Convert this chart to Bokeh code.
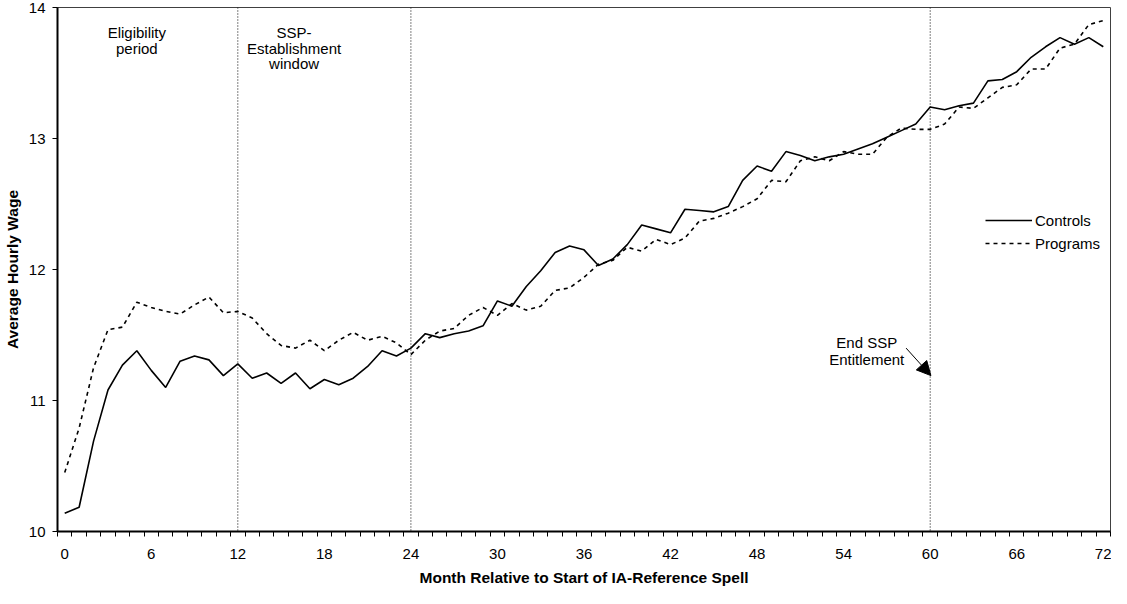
from bokeh.plotting import figure
from bokeh.models import (Range1d, FixedTicker, Span, Label, Arrow, NormalHead,
                          Legend, LegendItem)
from bokeh.embed import file_html
from bokeh.resources import INLINE

# ---------------- data ----------------
months = list(range(73))
controls = [10.14, 10.185, 10.69, 11.08, 11.27, 11.38, 11.23, 11.10, 11.30, 11.34,
            11.31, 11.19, 11.28, 11.17, 11.21, 11.13, 11.21, 11.09, 11.16, 11.12,
            11.17, 11.26, 11.38, 11.34, 11.40, 11.51, 11.48, 11.51, 11.53, 11.57,
            11.76, 11.72, 11.87, 11.99, 12.13, 12.18, 12.15, 12.03, 12.08, 12.19,
            12.34, 12.31, 12.28, 12.46, 12.45, 12.44, 12.48, 12.68, 12.79, 12.75,
            12.90, 12.87, 12.83, 12.86, 12.88, 12.92, 12.96, 13.01, 13.06, 13.11,
            13.24, 13.22, 13.25, 13.27, 13.44, 13.45, 13.51, 13.62, 13.70, 13.77,
            13.72, 13.77, 13.70]
programs = [10.45, 10.79, 11.25, 11.54, 11.56, 11.75, 11.71, 11.68, 11.66, 11.73,
            11.79, 11.67, 11.68, 11.63, 11.51, 11.42, 11.40, 11.46, 11.38, 11.46,
            11.52, 11.46, 11.49, 11.44, 11.35, 11.46, 11.53, 11.55, 11.65, 11.71,
            11.65, 11.74, 11.69, 11.72, 11.84, 11.86, 11.94, 12.04, 12.07, 12.17,
            12.14, 12.23, 12.19, 12.24, 12.37, 12.39, 12.43, 12.48, 12.54, 12.68,
            12.67, 12.83, 12.86, 12.83, 12.90, 12.88, 12.88, 13.01, 13.08, 13.07,
            13.07, 13.11, 13.24, 13.23, 13.31, 13.39, 13.41, 13.53, 13.53, 13.69,
            13.72, 13.87, 13.90]
x_tick_labels = [0, 6, 12, 18, 24, 30, 36, 42, 48, 54, 60, 66, 72]
y_ticks = [10, 11, 12, 13, 14]
period_lines = [12, 24, 60]

x_title = "Month Relative to Start of IA-Reference Spell"
y_title = "Average Hourly Wage"

# annotation texts, anchored in data units (month, wage)
notes = [
    ("Eligibility", 5.0, 13.81),
    ("period", 5.0, 13.69),
    ("SSP-", 15.9, 13.81),
    ("Establishment", 15.9, 13.69),
    ("window", 15.9, 13.57),
    ("End SSP", 55.6, 11.44),
    ("Entitlement", 55.6, 11.31),
]
arrow_from = (58.33, 11.40)
arrow_to = (60.05, 11.19)

FONT = "Liberation Sans"

p = figure(width=1111, height=588, output_backend="svg", toolbar_location=None,
           x_range=Range1d(-0.5, 72.5), y_range=Range1d(10, 14),
           min_border_left=51, min_border_right=1, min_border_top=7,
           min_border_bottom=53, background_fill_color="white",
           border_fill_color="white")

p.xgrid.visible = False
p.ygrid.visible = False
p.outline_line_color = "#404040"
p.outline_line_width = 1

# lines
r_c = p.line(months, controls, line_color="black", line_width=1.6)
r_p = p.line(months, programs, line_color="black", line_width=1.6, line_dash="4 4")

# period separators
for loc in period_lines:
    p.add_layout(Span(location=loc, dimension="height", line_color="#000000",
                      line_width=1, line_dash="1 2"))

# x axis: category style (ticks between categories)
xa = p.xaxis[0]
xa.ticker = FixedTicker(ticks=x_tick_labels, minor_ticks=[m - 0.5 for m in range(74)])
xa.major_tick_out = 0
xa.major_tick_in = 0
xa.minor_tick_out = 5
xa.minor_tick_in = 0
xa.minor_tick_line_color = "black"
xa.axis_line_color = "black"
xa.axis_line_width = 2
xa.major_label_standoff = 12
xa.major_label_text_font = FONT
xa.major_label_text_font_size = "15px"
xa.major_label_text_color = "black"
xa.axis_label = x_title
xa.axis_label_text_font = FONT
xa.axis_label_text_font_size = "15.5px"
xa.axis_label_text_font_style = "bold"
xa.axis_label_text_color = "black"
xa.axis_label_standoff = 7

ya = p.yaxis[0]
ya.ticker = FixedTicker(ticks=y_ticks)
ya.major_tick_out = 5
ya.major_tick_in = 0
ya.minor_tick_out = 0
ya.minor_tick_in = 0
ya.major_tick_line_color = "black"
ya.axis_line_color = "black"
ya.axis_line_width = 2
ya.major_label_standoff = 7
ya.major_label_text_font = FONT
ya.major_label_text_font_size = "15px"
ya.major_label_text_color = "black"
ya.axis_label = y_title
ya.axis_label_text_font = FONT
ya.axis_label_text_font_size = "15.5px"
ya.axis_label_text_font_style = "bold"
ya.axis_label_text_color = "black"
ya.axis_label_standoff = 5

# annotations
for txt, xx, yy in notes:
    p.add_layout(Label(x=xx, y=yy, text=txt, text_align="center",
                       text_baseline="middle", text_font=FONT,
                       text_font_size="15px", text_color="black"))

p.add_layout(Arrow(end=NormalHead(size=14, fill_color="black", line_color="black"),
                   x_start=arrow_from[0], y_start=arrow_from[1],
                   x_end=arrow_to[0], y_end=arrow_to[1],
                   line_color="black", line_width=1))

legend = Legend(items=[LegendItem(label="Controls", renderers=[r_c]),
                       LegendItem(label="Programs", renderers=[r_p])],
                location=(928, 278), glyph_width=47, glyph_height=20,
                label_height=20, spacing=3, label_standoff=3, padding=0, margin=0,
                border_line_color=None, background_fill_alpha=0,
                label_text_font=FONT, label_text_font_size="15px",
                label_text_color="black")
p.add_layout(legend)

open("out.html", "w").write(file_html(p, INLINE))
